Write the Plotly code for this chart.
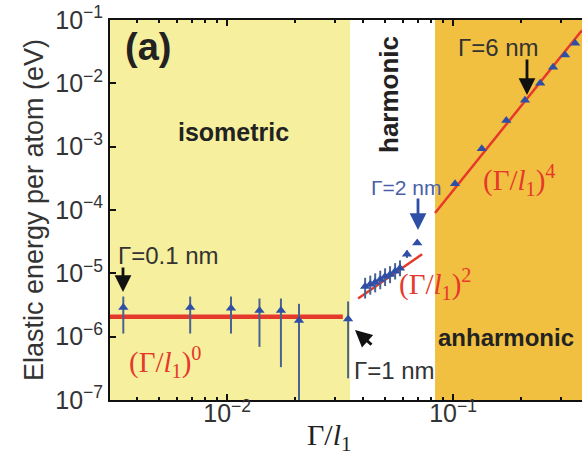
import numpy as np
import plotly.graph_objects as go

# ---------------- data ----------------
iso_x = [0.00347, 0.00686, 0.0104, 0.0139, 0.0173, 0.0208, 0.0343]
iso_y = [2.9e-6, 2.9e-6, 2.8e-6, 2.6e-6, 2.6e-6, 1.8e-6, 1.9e-6]
iso_hi = [4.3e-6, 4.3e-6, 4.3e-6, 4.0e-6, 4.0e-6, 3.3e-6, 3.6e-6]
iso_lo = [1.12e-6, 1.12e-6, 1.12e-6, 6.9e-7, 3.3e-7, 1e-8, 2.2e-7]

harm_x = [0.0408, 0.0430, 0.0452, 0.0476, 0.0500, 0.0526, 0.0554, 0.0582, 0.0625, 0.0694]
harm_y = [6.2e-6, 6.7e-6, 7.2e-6, 8.0e-6, 8.95e-6, 9.6e-6, 1.08e-5, 1.20e-5, 2.0e-5, 3.0e-5]
harm_hi = [8.5e-6, 9.2e-6, 1.0e-5, 1.1e-5, 1.2e-5, 1.3e-5, 1.45e-5, 1.6e-5, 2.3e-5, 3.3e-5]
harm_lo = [4.0e-6, 4.6e-6, 5.0e-6, 5.6e-6, 6.3e-6, 7.0e-6, 8.0e-6, 9.0e-6, 1.75e-5, 2.8e-5]

anh_x = [0.102, 0.134, 0.172, 0.208, 0.243, 0.277, 0.313, 0.347]
anh_y = [2.6e-4, 9.3e-4, 2.6e-3, 5.4e-3, 1.0e-2, 1.8e-2, 2.8e-2, 4.3e-2]

fit0_x = [0.00303, 0.0325]
fit0_y = [2.07e-6, 2.07e-6]
fit2_x = [0.0380, 0.0729]
fit2_y = [4.0e-6, 2.0e-5]
fit4_x = [0.0832, 0.372]
fit4_y = [8.95e-5, 6.9e-2]

x_range = [0.00303, 0.372]
region_iso = [0.00303, 0.0350]
region_anh = [0.0832, 0.372]

y_tickvals = [1e-7, 1e-6, 1e-5, 1e-4, 1e-3, 1e-2, 1e-1]
y_ticktext = ["10<sup>\u22127</sup>", "10<sup>\u22126</sup>", "10<sup>\u22125</sup>",
              "10<sup>\u22124</sup>", "10<sup>\u22123</sup>", "10<sup>\u22122</sup>",
              "10<sup>\u22121</sup>"]
x_tickvals = [1e-2, 1e-1]
x_ticktext = ["10<sup>\u22122</sup>", "10<sup>\u22121</sup>"]

# ---------------- styles ----------------
RED = "#E5392B"
BLUE = "#2F4FA6"
BAR = "#4A6490"
SANS = "Liberation Sans, Arial, sans-serif"
SERIF = "Liberation Serif, Times New Roman, serif"

W, H = 582, 460
ML, MR, MT, MB = 110, 0, 20, 60
PW, PH = W - ML - MR, H - MT - MB


def pxx(px):
    return (px - ML) / PW


def pxy(py):
    return (H - MB - py) / PH


fig = go.Figure()


def err(y, hi, lo):
    return dict(type="data", symmetric=False,
                array=[h - v for h, v in zip(hi, y)],
                arrayminus=[v - l for v, l in zip(y, lo)],
                color=BAR, thickness=2, width=0)


fig.add_trace(go.Scatter(x=fit0_x, y=fit0_y, mode="lines",
                         line=dict(color=RED, width=4.5), hoverinfo="skip"))
fig.add_trace(go.Scatter(x=fit2_x, y=fit2_y, mode="lines",
                         line=dict(color=RED, width=2.5), hoverinfo="skip"))
fig.add_trace(go.Scatter(x=fit4_x, y=fit4_y, mode="lines",
                         line=dict(color=RED, width=2.5), hoverinfo="skip"))

marker = dict(symbol="triangle-up", size=9, color=BLUE)
fig.add_trace(go.Scatter(x=iso_x, y=iso_y, mode="markers", marker=marker,
                         error_y=err(iso_y, iso_hi, iso_lo)))
fig.add_trace(go.Scatter(x=harm_x, y=harm_y, mode="markers", marker=marker,
                         error_y=err(harm_y, harm_hi, harm_lo)))
fig.add_trace(go.Scatter(x=anh_x, y=anh_y, mode="markers", marker=marker))

# background regions
fig.add_shape(type="rect", xref="x", yref="paper", x0=region_iso[0], x1=region_iso[1],
              y0=0, y1=1, fillcolor="#F6EF9E", line_width=0, layer="below")
fig.add_shape(type="rect", xref="x", yref="paper", x0=region_anh[0], x1=region_anh[1],
              y0=0, y1=1, fillcolor="#F2C040", line_width=0, layer="below")

ann = []


def txt(text, px, py, size, color="#222", xanchor="center", font=SANS, angle=0):
    ann.append(dict(text=text, x=pxx(px), y=pxy(py), xref="paper", yref="paper",
                    showarrow=False, xanchor=xanchor, yanchor="middle",
                    textangle=angle, font=dict(size=size, color=color, family=font)))


def arrow(hx, hy, tx, ty, color="#111"):
    ann.append(dict(text="", x=pxx(hx), y=pxy(hy), xref="paper", yref="paper",
                    ax=tx - hx, ay=ty - hy, showarrow=True, arrowhead=2,
                    arrowsize=1.2, arrowwidth=2.8, arrowcolor=color))


txt("<b>(a)</b>", 123, 47, 38, "#222", xanchor="left")
txt("<b>isometric</b>", 233, 132, 25)
txt("<b>harmonic</b>", 389, 95, 26, angle=-90)
txt("<b>anharmonic</b>", 436, 337, 24, xanchor="left")

txt("\u0393=0.1 nm", 116, 256, 24, "#333", xanchor="left")
arrow(123, 292, 123, 266)
txt("\u0393=1 nm", 352, 370, 24, "#333", xanchor="left")
arrow(355, 330, 373, 346)
txt("\u0393=2 nm", 406, 187, 21, "#4A5FA8")
arrow(418, 230, 418, 197, color="#2F4FA6")
txt("\u0393=6 nm", 498, 47, 24, "#333")
arrow(527, 95, 527, 58)

txt("(\u0393/<i>l</i><sub>1</sub>)<sup>0</sup>", 127, 362, 29, RED, xanchor="left", font=SERIF)
txt("(\u0393/<i>l</i><sub>1</sub>)<sup>2</sup>", 397, 284, 29, RED, xanchor="left", font=SERIF)
txt("(\u0393/<i>l</i><sub>1</sub>)<sup>4</sup>", 481, 180, 29, RED, xanchor="left", font=SERIF)

# x-axis title (placed as text so it can sit where the reference has it)
txt("\u0393/<i>l</i><sub>1</sub>", 329, 437, 30, "#222", font=SERIF)

fig.update_layout(
    width=W, height=H, margin=dict(l=ML, r=MR, t=MT, b=MB),
    plot_bgcolor="white", paper_bgcolor="white", showlegend=False,
    annotations=ann,
    xaxis=dict(type="log", range=[np.log10(x_range[0]), np.log10(x_range[1])],
               tickvals=x_tickvals, ticktext=x_ticktext, ticks="inside", ticklen=6,
               tickwidth=1.5, tickcolor="#111", showline=True, linecolor="#111",
               linewidth=2, mirror="ticks", showgrid=False, zeroline=False,
               ticklabelstandoff=-10,
               tickfont=dict(size=25, color="#333", family=SANS),
               minor=dict(tickvals=[k * 10.0 ** e for e in (-3, -2, -1) for k in range(2, 10)],
                          ticks="inside", ticklen=3, tickcolor="#111", showgrid=False)),
    yaxis=dict(type="log", range=[-7, -1], tickvals=y_tickvals, ticktext=y_ticktext,
               ticks="inside", ticklen=6, tickwidth=1.5, tickcolor="#111",
               showline=True, linecolor="#111", linewidth=2, showgrid=False,
               zeroline=False, tickfont=dict(size=25, color="#333", family=SANS),
               title=dict(text="Elastic energy per atom (eV)",
                          font=dict(size=27, color="#333", family=SANS), standoff=4)),
)

fig.write_html("out.html")
